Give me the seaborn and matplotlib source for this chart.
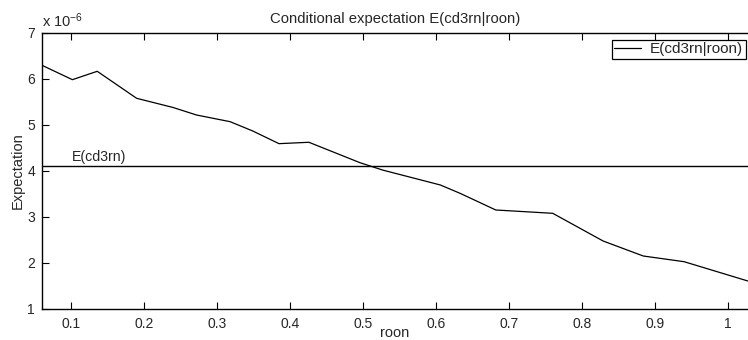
import matplotlib
matplotlib.use("Agg")
import matplotlib.pyplot as plt
import matplotlib.ticker as mticker
import numpy as np
import pandas as pd
import seaborn as sns

# Conditional expectation of cd3rn given roon
roon = [0.060, 0.102, 0.136, 0.190, 0.240, 0.272, 0.318, 0.349, 0.385, 0.426,
        0.496, 0.527, 0.606, 0.633, 0.682, 0.760, 0.829, 0.884, 0.940, 1.027]
cond_exp = [6.30, 5.985, 6.167, 5.58, 5.38, 5.217, 5.072, 4.87, 4.594, 4.624,
            4.18, 4.02, 3.696, 3.515, 3.152, 3.08, 2.478, 2.152, 2.028, 1.61]
scale = 1e-6
overall_mean = 4.11  # E(cd3rn), same scale

x_ticks = [0.1, 0.2, 0.3, 0.4, 0.5, 0.6, 0.7, 0.8, 0.9, 1.0]
x_tick_labels = ["0.1", "0.2", "0.3", "0.4", "0.5", "0.6", "0.7", "0.8", "0.9", "1"]
y_ticks = [1, 2, 3, 4, 5, 6, 7]

df = pd.DataFrame({"roon": roon, "value": np.array(cond_exp) * scale})

sns.set_style("ticks")
plt.rcParams["font.family"] = ["Liberation Sans", "DejaVu Sans"]
plt.rcParams["mathtext.fontset"] = "custom"
plt.rcParams["mathtext.rm"] = "Liberation Sans"
plt.rcParams["mathtext.it"] = "Liberation Sans:italic"

fig = plt.figure(figsize=(7.48, 3.40), dpi=100)
ax = fig.add_axes([0.0561, 0.0912, 0.9439, 0.8118])

sns.lineplot(data=df, x="roon", y="value", ax=ax, color="black", linewidth=0.9,
             label="E(cd3rn|roon)")
ax.axhline(overall_mean * scale, color="black", linewidth=1.0)
ax.text(0.1014, (overall_mean + 0.1) * scale, "E(cd3rn)", fontsize=10.2,
        ha="left", va="baseline")

ax.set_xlim(0.0603, 1.0275)
ax.set_ylim(1 * scale, 7 * scale)
ax.set_xticks(x_ticks)
ax.set_xticklabels(x_tick_labels)
ax.set_yticks([v * scale for v in y_ticks])
ax.yaxis.set_major_formatter(mticker.FuncFormatter(lambda v, p: f"{v / scale:.0f}"))

ax.tick_params(direction="in", length=5, width=0.8, labelsize=10, color="black",
               top=True)
ax.tick_params(axis="x", pad=5.5)
ax.tick_params(axis="y", pad=5)
for side in ["left", "bottom", "top"]:
    ax.spines[side].set_visible(True)
    ax.spines[side].set_linewidth(1.0)
    ax.spines[side].set_color("black")
ax.spines["right"].set_visible(False)

ax.set_xlabel("roon", fontsize=10.5)
ax.xaxis.label.set_va("baseline")
ax.xaxis.set_label_coords(0.5, -0.1014)
ax.set_ylabel("Expectation", fontsize=10.5)
ax.yaxis.label.set_va("center")
ax.yaxis.set_label_coords(-0.034, 0.5)
ax.set_title("Conditional expectation E(cd3rn|roon)", fontsize=10.7, pad=7)

fig.text(0.056, 1 - 27 / 340, r"x 10$^{-6}$", fontsize=10.5, ha="left",
         va="baseline")

leg = ax.legend(loc="upper left", bbox_to_anchor=(0.8074, 0.9746), fontsize=11,
                frameon=True, fancybox=False, edgecolor="black", framealpha=1,
                handlelength=1.75, handletextpad=0.6, borderpad=0.15,
                borderaxespad=0)
leg.get_frame().set_linewidth(0.9)

fig.savefig("out.png", dpi=100)
